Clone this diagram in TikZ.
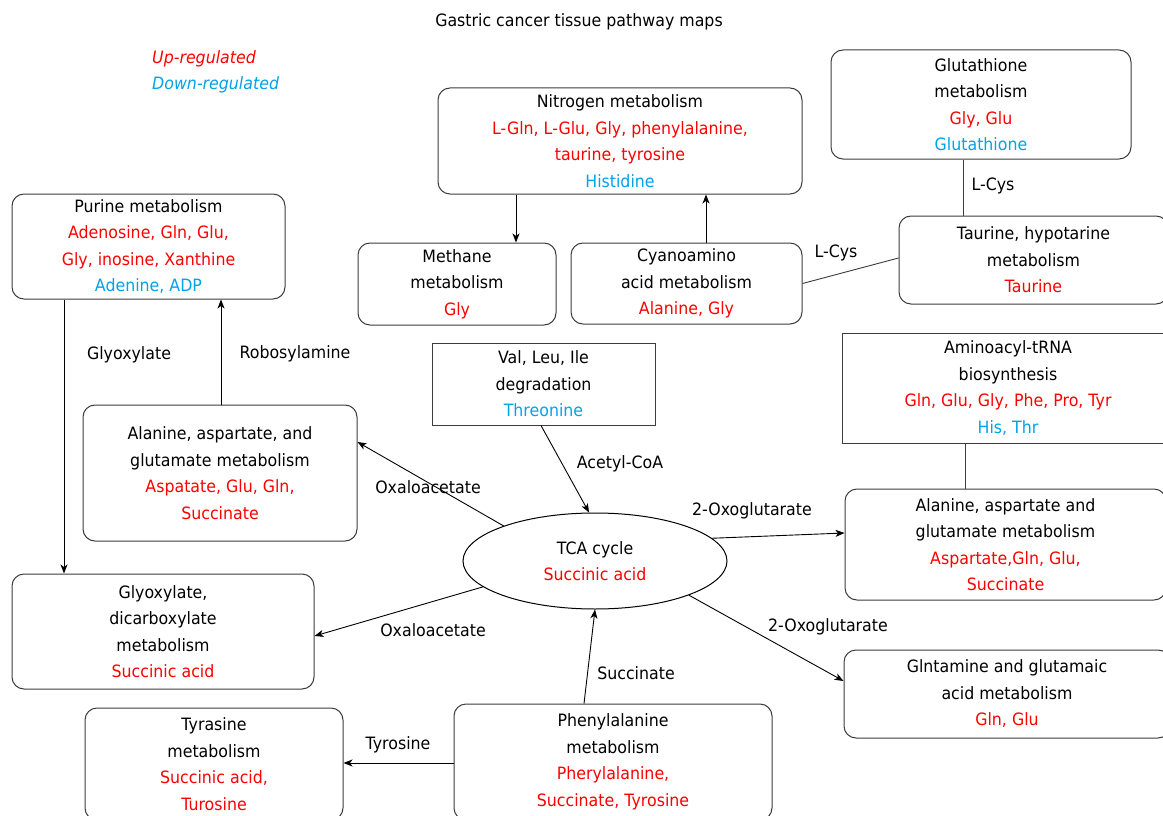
\documentclass[tikz,border=0pt]{standalone}
\usepackage{fontspec}
\setmainfont{DejaVu Sans}[FakeStretch=0.93]
\usetikzlibrary{shapes.geometric,arrows.meta}
\definecolor{upred}{RGB}{255,0,0}
\definecolor{dnblue}{RGB}{0,162,232}
\definecolor{edge}{RGB}{60,60,60}
\newcommand\nf{\fontsize{17}{26.5}\selectfont}
\newcommand\up[1]{\textcolor{upred}{#1}}
\newcommand\dn[1]{\textcolor{dnblue}{#1}}
\tikzset{
  rbox/.style={draw=edge, line width=1pt, rounded corners=12pt, align=center, font=\nf, inner sep=0pt},
  sbox/.style={draw=edge, line width=1pt, align=center, font=\nf, inner sep=0pt},
  ebox/.style={draw=black, line width=1pt, ellipse, align=center, font=\nf, inner sep=0pt},
  lab/.style={font=\nf, inner sep=0pt},
  arr/.style={draw=black, line width=0.9pt, -{Stealth[length=9pt,width=7pt,inset=2.5pt]}},
  ln/.style={draw=edge, line width=0.9pt}
}
\begin{document}
\begin{tikzpicture}[x=1pt,y=-1pt]
\useasboundingbox (0,0) rectangle (1163,816);
% title and legend
\node[lab] (title) at (579,22) {Gastric cancer tissue pathway maps};
\node[lab, anchor=west] (legup) at (152,59) {\itshape\up{Up-regulated}};
\node[lab, anchor=west] (legdn) at (152,85) {\itshape\dn{Down-regulated}};
% boxes
\node[rbox, minimum width=364pt, minimum height=106pt] (nitro) at (620,141)
  {Nitrogen metabolism\\ \up{L-Gln, L-Glu, Gly, phenylalanine,}\\ \up{taurine, tyrosine}\\ \dn{Histidine}};
\node[rbox, minimum width=300pt, minimum height=109pt] (gluta) at (981,104.5)
  {Glutathione\\ metabolism\\ \up{Gly, Glu}\\ \dn{Glutathione}};
\node[rbox, minimum width=273pt, minimum height=105pt] (purine) at (148.5,246.5)
  {Purine metabolism\\ \up{Adenosine, Gln, Glu,}\\ \up{Gly, inosine, Xanthine}\\ \dn{Adenine, ADP}};
\node[rbox, minimum width=198pt, minimum height=82pt] (methane) at (457,284)
  {Methane\\ metabolism\\ \up{Gly}};
\node[rbox, minimum width=231pt, minimum height=81pt] (cyan) at (686.5,283.5)
  {Cyanoamino\\ acid metabolism\\ \up{Alanine, Gly}};
\node[rbox, minimum width=269pt, minimum height=88pt] (taur) at (1033.5,260)
  {Taurine, hypotarine\\ metabolism\\ \up{Taurine}};
\node[sbox, minimum width=223pt, minimum height=82pt] (val) at (543.5,384)
  {Val, Leu, Ile\\ degradation\\ \dn{Threonine}};
\node[sbox, minimum width=332pt, minimum height=110pt] (amino) at (1008,388)
  {Aminoacyl-tRNA\\ biosynthesis\\ \up{Gln, Glu, Gly, Phe, Pro, Tyr}\\ \dn{His, Thr}};
\node[rbox, minimum width=274pt, minimum height=136pt] (alaL) at (220,473)
  {Alanine, aspartate, and\\ glutamate metabolism\\ \up{Aspatate, Glu, Gln,}\\ \up{Succinate}};
\node[ebox, minimum width=264pt, minimum height=96pt] (tca) at (595,561)
  {TCA cycle\\ \up{Succinic acid}};
\node[rbox, minimum width=321pt, minimum height=111pt] (alaR) at (1005.5,544.5)
  {Alanine, aspartate and\\ glutamate metabolism\\ \up{Aspartate,Gln, Glu,}\\ \up{Succinate}};
\node[rbox, minimum width=302pt, minimum height=115pt] (glyox) at (163,631.5)
  {Glyoxylate,\\ dicarboxylate\\ metabolism\\ \up{Succinic acid}};
\node[rbox, minimum width=326pt, minimum height=88pt] (glnt) at (1007,694)
  {Glntamine and glutamaic\\ acid metabolism\\ \up{Gln, Glu}};
\node[rbox, minimum width=258pt, minimum height=112pt] (tyr) at (214,764)
  {Tyrasine\\ metabolism\\ \up{Succinic acid,}\\ \up{Turosine}};
\node[rbox, minimum width=318pt, minimum height=116pt] (phenyl) at (613,762)
  {Phenylalanine\\ metabolism\\ \up{Pherylalanine,}\\ \up{Succinate, Tyrosine}};
% connectors
\draw[arr] ([xshift=-104pt]nitro.south) -- ([xshift=-104pt]nitro.south |- methane.north);
\draw[arr] ([xshift=19.5pt]cyan.north) -- ([xshift=19.5pt]cyan.north |- nitro.south);
\draw[ln] ([xshift=-18pt]gluta.south) -- ([xshift=-18pt]gluta.south |- taur.north);
\draw[ln] (cyan.east) -- ([yshift=2pt]taur.west);
\draw[arr] ([xshift=-84.5pt]purine.south) -- ([xshift=-84.5pt]purine.south |- glyox.north);
\draw[arr] ([xshift=1pt]alaL.north) -- ([xshift=1pt]alaL.north |- purine.south);
\draw[arr] (tca.159) -- ([yshift=31pt]alaL.east);
\draw[arr] ([xshift=-2.5pt]val.south) -- (tca.97);
\draw[arr] (tca.11) -- ([yshift=11.5pt]alaR.west);
\draw[ln] ([xshift=-43pt]amino.south) -- ([xshift=-43pt]amino.south |- alaR.north);
\draw[arr] (tca.340) -- ([yshift=13pt]glnt.west);
\draw[arr] (tca.193) -- ([yshift=-4.5pt]glyox.east);
\draw[arr] ([xshift=-29pt]phenyl.north) -- (tca.south);
\draw[arr] ([yshift=-1pt]phenyl.west) -- ([yshift=-1pt]phenyl.west -| tyr.east);
% connector labels
\node[lab] (lglyox) at (129,355) {Glyoxylate};
\node[lab] (lribo) at (295,354) {Robosylamine};
\node[lab] (loxa1) at (428,487) {Oxaloacetate};
\node[lab] (lacet) at (620,464) {Acetyl-CoA};
\node[lab] (loxo1) at (752,511) {2-Oxoglutarate};
\node[lab] (loxo2) at (828,627) {2-Oxoglutarate};
\node[lab] (loxa2) at (433,630) {Oxaloacetate};
\node[lab] (lsucc) at (636,673) {Succinate};
\node[lab] (ltyro) at (398,745) {Tyrosine};
\node[lab] (lcys1) at (993,186) {L-Cys};
\node[lab] (lcys2) at (836,253) {L-Cys};
\end{tikzpicture}
\end{document}
